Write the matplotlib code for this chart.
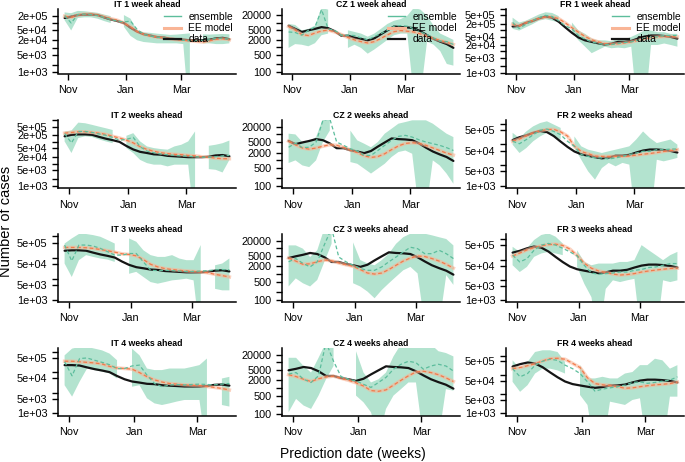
import numpy as np
import pandas as pd
import matplotlib
matplotlib.use("Agg")
import matplotlib.pyplot as plt
import matplotlib.dates as mdates
from matplotlib.lines import Line2D

plt.rcParams['font.family'] = ['Liberation Sans', 'DejaVu Sans']

nan = np.nan
countries = ["IT", "CZ", "FR"]
horizons = [1, 2, 3, 4]
first_pred = "2020-10-28"
n_dates = 26
month_ticks = ["2020-11-01", "2021-01-01", "2021-03-01"]
month_labels = ["Nov", "Jan", "Mar"]

# weekly observed cases, by target week (first target = 2020-11-04)
it_data = [1.6e5, 1.8e5, 2.1e5, 2.2e5, 2.2e5, 2.1e5, 1.7e5, 1.4e5, 1.2e5, 1.0e5, 6.5e4, 4.5e4, 3.5e4,
           3.1e4, 2.7e4, 2.6e4, 2.3e4, 2.2e4, 2.1e4, 2.0e4, 2.0e4, 2.0e4, 2.1e4, 2.4e4, 2.5e4, 2.2e4]
cz_data = [7500, 5600, 4200, 4900, 5600, 6600, 6000, 4500, 2950, 2950, 2450, 2200, 1900,
           2300, 3400, 4900, 7000, 6600, 6400, 6000, 4500, 3100, 2200, 1700, 1350, 950]
fr_data = [1.5e5, 1.6e5, 2.2e5, 2.7e5, 3.6e5, 4.4e5, 3.9e5, 2.5e5, 1.35e5, 7.5e4, 4.5e4, 3.3e4, 2.8e4,
           2.4e4, 2.1e4, 2.3e4, 2.8e4, 2.8e4, 3.1e4, 4.0e4, 5.0e4, 5.6e4, 5.6e4, 5.3e4, 4.8e4, 4.0e4]

# Italy
it1_med = [2.0e5, 1.0e5, 2.2e5, 2.3e5, 2.2e5, 2.0e5, 1.7e5, 1.4e5, 1.2e5, 1.1e5, 1.2e5, 5.5e4, 3.5e4,
           3.0e4, 2.7e4, 2.5e4, 2.3e4, 2.2e4, 2.0e4, 1.9e4, 1.9e4, 2.0e4, 2.1e4, 2.4e4, 2.4e4, 2.2e4]
it1_lo = [1.3e5, 5.0e4, 1.6e5, 1.7e5, 1.7e5, 1.5e5, 1.2e5, 1.0e5, nan, 7.0e4, 3.0e4, 2.0e4, 1.7e4,
          1.6e4, 1.5e4, 1.5e4, 1.5e4, 1.5e4, 1.4e4, 10, nan, 1.5e4, 1.5e4, 1.4e4, 1.4e4, 1.5e4]
it1_hi = [2.7e5, 2.5e5, 3.1e5, 3.0e5, 2.8e5, 2.6e5, 2.2e5, 1.9e5, nan, 2.1e5, 1.5e5, 5.0e4, 4.2e4,
          4.0e4, 3.7e4, 3.5e4, 3.3e4, 3.4e4, 3.6e4, 3.8e4, nan, 3.5e4, 3.4e4, 3.5e4, 3.6e4, 3.5e4]
it1_ee = [1.9e5, 1.7e5, 2.1e5, 2.3e5, 2.3e5, 2.1e5, 1.8e5, 1.5e5, 1.3e5, 1.0e5, 7.0e4, 4.5e4, 3.5e4,
          3.0e4, 2.7e4, 2.5e4, 2.3e4, 2.1e4, 2.0e4, 1.9e4, 1.8e4, 1.7e4, 1.9e4, 2.2e4, 2.3e4, 2.1e4]

it2_med = [2.4e5, 9.0e4, 3.0e5, 3.0e5, 2.7e5, 2.3e5, 2.0e5, 1.6e5, 1.2e5, 1.3e5, 1.6e5, 6.0e4, 3.8e4,
           3.2e4, 2.8e4, 2.6e4, 2.4e4, 2.3e4, 2.2e4, 2.1e4, 2.0e4, 2.0e4, 2.1e4, 2.3e4, 2.4e4]
it2_lo = [1.05e5, 3.1e4, 1.5e5, 1.8e5, 1.66e5, 1.3e5, 1.05e5, 8.7e4, nan, 5.2e4, 3.1e4, 1.5e4, 1.07e4,
          9.1e3, 9.1e3, 7.6e3, 9.1e3, 9.1e3, 9.1e3, 10, nan, 5.7e3, 5.3e3, 4.0e3, 1.5e4]
it2_hi = [3.0e5, 3.3e5, 7.6e5, 7.1e5, 6.0e5, 5.0e5, 4.2e5, 3.5e5, nan, 1.9e5, 2.5e5, 1.05e5, 6.2e4,
          5.2e4, 4.7e4, 4.4e4, 6.2e4, 7.4e4, 1.05e5, 3.0e5, nan, 6.6e4, 7.4e4, 8.7e4, 1.15e5]
it2_ee = [2.5e5, 2.7e5, 2.9e5, 2.9e5, 2.7e5, 2.5e5, 2.2e5, 1.8e5, 1.5e5, 1.2e5, 9.0e4, 6.0e4, 4.5e4,
          3.7e4, 3.2e4, 2.9e4, 2.7e4, 2.6e4, 2.4e4, 2.3e4, 2.1e4, 2.0e4, 1.8e4, 1.7e4, 1.7e4]

it3_med = [3.9e5, 6.9e4, 3.9e5, 3.9e5, 3.5e5, 2.7e5, 1.9e5, 1.3e5, 1.3e5, 1.55e5, 1.55e5, 6.2e4,
           2.5e4, 2.4e4, 2.5e4, 2.4e4, 2.3e4, 2.2e4, 2.2e4, 2.3e4, 2.4e4, 2.6e4, 2.7e4, 2.6e4]
it3_lo = [5.2e4, 1.2e4, 7.5e4, 1.3e5, 1.07e5, 9.0e4, 8.0e4, 6.2e4, nan, 1.7e4, 2.1e4, 1.2e4,
          6.9e3, 5.8e3, 6.9e3, 8.3e3, 9.0e3, 1.0e4, 8.3e3, 10, nan, 3.3e3, 2.8e3, 2.8e3]
it3_hi = [4.6e5, 8.0e5, 1.3e6, 1.3e6, 1.15e6, 9.6e5, 6.7e5, 4.6e5, nan, 8.0e5, 5.6e5, 2.2e5,
          1.3e5, 1.07e5, 1.07e5, 1.3e5, 9.0e4, 7.5e4, 7.5e4, 3.9e5, nan, 4.3e4, 5.2e4, 9.0e4]
it3_ee = [3.0e5, 3.0e5, 3.0e5, 2.9e5, 2.7e5, 2.4e5, 2.1e5, 1.8e5, 1.5e5, 1.4e5, 1.2e5, 8.0e4,
          4.8e4, 3.6e4, 3.0e4, 2.7e4, 2.5e4, 2.3e4, 2.2e4, 2.1e4, 1.9e4, 1.6e4, 1.4e4, 1.2e4]

it4_med = [3.2e5, 6.6e4, 4.6e5, 4.9e5, 3.8e5, 3.0e5, 2.3e5, 1.5e5, 1.5e5, 2.0e5, 2.2e5, 7.1e4,
           2.8e4, 1.95e4, 2.35e4, 2.5e4, 2.4e4, 2.5e4, 2.6e4, 2.5e4, 2.4e4, 2.6e4, 2.8e4]
it4_lo = [2.3e4, 6.4e3, 3.4e4, 1.5e5, 1.26e5, 1.05e5, 8.7e4, 4.9e4, nan, 1.95e4, 2.3e4, 5.3e3,
          3.0e3, 2.5e3, 3.0e3, 3.7e3, 4.4e3, 4.4e3, 4.4e3, 10, nan, 2.5e3, 2.1e3]
it4_hi = [6.6e5, 1.4e6, 1.7e6, 1.7e6, 1.4e6, 1.15e6, 8.0e5, 3.8e5, nan, 1.4e6, 6.6e5, 1.5e5,
          1.26e5, 1.26e5, 1.5e5, 1.5e5, 1.5e5, 1.8e5, 2.2e5, 4.6e5, nan, 4.9e4, 5.9e4]
it4_ee = [3.4e5, 3.4e5, 3.2e5, 3.0e5, 2.8e5, 2.5e5, 1.9e5, 1.6e5, 1.5e5, 1.4e5, 9.5e4, 6.0e4,
          4.2e4, 3.3e4, 2.8e4, 2.6e4, 2.4e4, 2.3e4, 2.2e4, 2.0e4, 1.8e4, 1.6e4, 1.35e4]

# Czechia
cz1_med = [4200, 4000, 3100, 4900, 6600, 34000, 5600, 4900, 3100, 3100, 3000, 2400, 2000,
           2700, 3600, 4900, 7200, 7600, 7200, 5600, 4200, 3300, 2400, 1800, 1700, 1300]
cz1_lo = [940, 1350, 1270, 1100, 1470, 3100, 3600, nan, nan, 940, 1270, 940, 550,
          810, 1270, 2000, 3100, 3600, 3600, 10, 10, 1700, 1270, 700, 210, 180]
cz1_hi = [8900, 8100, 4900, 5600, 7600, 40000, 34000, nan, nan, 4900, 4200, 3600, 2700,
          3600, 5600, 8900, 12000, 14000, 19000, 40000, 34000, 19000, 7600, 3600, 2700, 2000]
cz1_ee = [7000, 5000, 3300, 3000, 3800, 4600, 5000, 4200, 3300, 2500, 2000, 1700, 1500,
          1700, 2300, 3200, 4300, 4800, 4500, 4200, 3500, 2800, 2300, 1900, 1600, 1300]

cz2_med = [3200, 4600, 3100, 3200, 5100, 35000, 40000, 5100, 3800, 2800, 2300, 1550, 1550,
           2400, 3800, 5900, 8400, 9200, 7900, 6200, 5100, 4400, 3800, 3100, 2400]
cz2_lo = [790, 1000, 640, 550, 1000, 5100, 14000, nan, nan, 860, 740, 480, 310,
          480, 740, 1350, 2100, 2400, 1800, 10, 10, 1000, 640, 310, 125]
cz2_hi = [10700, 10000, 5100, 5100, 7900, 40000, 46000, nan, nan, 14000, 5900, 4400, 3200,
          5100, 10700, 16600, 26000, 30000, 35000, 35000, 35000, 26000, 16600, 10700, 7900]
cz2_ee = [5500, 4000, 3000, 2700, 3000, 3500, 4000, 3800, 3200, 2500, 2000, 1500, 1300,
          1400, 1800, 2600, 3600, 4500, 4800, 4500, 3800, 3000, 2400, 1900, 1600]

cz3_med = [3000, 4000, 2600, 1900, 3000, 14000, 60000, 4600, 3000, 2200, 1650, 1400,
           1400, 1900, 3000, 4600, 7200, 11000, 9700, 6200, 6200, 8400, 6200, 4000]
cz3_lo = [330, 680, 440, 330, 590, 3000, 15000, nan, nan, 440, 330, 210,
          115, 240, 440, 790, 1400, 1900, 1060, 10, 10, 10, 910, 380]
cz3_hi = [13000, 13000, 9700, 4600, 8400, 60000, 60000, nan, nan, 17000, 3500, 2600,
          2200, 3500, 6200, 15000, 27000, 37000, 37000, 37000, 32000, 27000, 23000, 13000]
cz3_ee = [4200, 3200, 2400, 2500, 3000, 3500, 3300, 2700, 2300, 2000, 1500, 1100,
          1000, 1100, 1500, 2200, 3200, 4200, 5000, 4800, 4000, 3200, 2400, 1700]

cz4_med = [3500, 4000, 2200, 1650, 3000, 60000, 11000, 2800, 2200, 1900, 1400, 1060,
           1650, 2600, 5400, 8400, 11000, 9700, 5400, 7200, 8400, 7200, 4600]
cz4_lo = [115, 380, 210, 155, 510, 2200, 7200, nan, nan, 510, 280, 115,
          10, 155, 510, 910, 1650, 1650, 10, 10, 10, 910, 790]
cz4_hi = [15000, 15000, 7200, 4000, 15000, 60000, 60000, nan, nan, 27000, 4000, 1650,
          2200, 4000, 17000, 50000, 50000, 50000, 50000, 50000, 27000, 23000, 17000]
cz4_ee = [3300, 2800, 2200, 1800, 2300, 2700, 2900, 2400, 2000, 1600, 1200, 800,
          750, 850, 1300, 2000, 3000, 4200, 4500, 4000, 3300, 2500, 1800]

# France
fr1_med = [2.3e5, 1.2e5, 1.9e5, 2.8e5, 3.9e5, 5.0e5, 4.4e5, 2.8e5, 1.6e5, 1.15e5, 5.6e4, 3.7e4, 2.8e4,
           2.35e4, 2.1e4, 2.1e4, 2.35e4, 2.6e4, 2.8e4, 3.3e4, 4.3e4, 4.8e4, 4.8e4, 5.6e4, 5.6e4, 5.6e4]
fr1_lo = [1.15e5, 9.6e4, 1.35e5, 1.9e5, 2.8e5, 3.3e5, 2.8e5, 2.3e5, nan, 8.0e4, 3.3e4, 1.66e4, 8.2e3,
          1.17e4, 1.66e4, 1.4e4, 1.5e4, 1.4e4, 1.66e4, 10, 10, 2.0e4, 2.0e4, 2.35e4, 2.0e4, 1.66e4]
fr1_hi = [3.9e5, 2.3e5, 2.8e5, 3.9e5, 5.5e5, 7.0e5, 6.5e5, 4.6e5, nan, 2.3e5, 9.6e4, 6.7e4, 4.0e4,
          3.3e4, 3.3e4, 3.0e4, 4.0e4, 3.7e4, 4.8e4, 6.7e4, 9.6e4, 9.6e4, 8.0e4, 8.0e4, 6.7e4, 6.7e4]
fr1_ee = [1.9e5, 1.6e5, 2.2e5, 2.8e5, 3.6e5, 4.2e5, 4.2e5, 3.5e5, 2.2e5, 1.3e5, 8.0e4, 5.0e4, 3.5e4,
          2.8e4, 2.3e4, 2.2e4, 2.3e4, 2.5e4, 2.8e4, 3.3e4, 4.0e4, 4.5e4, 4.8e4, 5.0e4, 5.0e4, 4.8e4]

fr2_med = [1.4e5, 1.07e5, 1.7e5, 2.9e5, 4.8e5, 5.5e5, 4.2e5, 2.9e5, 1.4e5, 8.0e4, 3.2e4, 2.6e4, 2.2e4,
           2.2e4, 1.95e4, 2.2e4, 2.6e4, 3.2e4, 3.8e4, 4.6e4, 4.6e4, 5.5e4, 5.5e4, 5.9e4, 5.9e4]
fr2_lo = [9.6e4, 3.8e4, 6.6e4, 1.4e5, 2.4e5, 3.6e5, 2.4e5, 1.7e5, nan, 6.6e4, 1.8e4, 4.9e3, 1.95e3,
          7.1e3, 1.26e4, 8.6e3, 1.26e4, 1.04e4, 10, 10, 10, 1.8e4, 1.5e4, 1.8e4, 2.2e4]
fr2_hi = [3.6e5, 2.0e5, 4.2e5, 7.4e5, 1.07e6, 1.3e6, 9.0e5, 6.2e5, nan, 2.4e5, 8.0e4, 5.5e4, 4.6e4,
          3.8e4, 4.6e4, 5.5e4, 6.6e4, 8.0e4, 1.7e5, 4.2e5, 2.0e5, 1.15e5, 1.4e5, 1.7e5, 9.6e4]
fr2_ee = [1.4e5, 1.8e5, 2.6e5, 3.6e5, 4.5e5, 5.2e5, 5.3e5, 4.0e5, 2.5e5, 8.0e4, 4.5e4, 3.5e4, 2.7e4,
          2.6e4, 2.6e4, 2.6e4, 2.6e4, 2.7e4, 3.0e4, 3.3e4, 3.6e4, 4.0e4, 4.5e4, 5.0e4, 5.5e4]

fr3_med = [1.65e5, 7.6e4, 1.1e5, 2.9e5, 5.2e5, 6.3e5, 5.2e5, 3.6e5, 2.4e5, 1.5e5, 5.2e4, 2.15e4,
           1.85e4, 2.0e4, 2.15e4, 2.4e4, 2.4e4, 2.9e4, 3.2e4, 4.0e4, 4.3e4, 5.2e4, 6.3e4, 6.3e4]
fr3_lo = [5.2e4, 2.4e4, 4.3e4, 1.35e5, 2.0e5, 2.4e5, 2.0e5, 1.65e5, nan, 4.3e4, 6.3e3, 1.36e3,
          10, 3.5e3, 9.3e3, 7.6e3, 9.3e3, 1.1e4, 10, 10, 10, 9.3e3, 7.6e3, 9.3e3]
fr3_hi = [4.3e5, 2.4e5, 3.6e5, 9.3e5, 1.65e6, 2.0e6, 1.36e6, 6.3e5, nan, 2.9e5, 7.6e4, 5.2e4,
          6.3e4, 6.3e4, 6.3e4, 7.6e4, 7.6e4, 9.3e4, 5.2e5, 2.9e5, 1.65e5, 9.3e4, 1.65e5, 2.4e5]
fr3_ee = [1.5e5, 2.1e5, 3.0e5, 3.9e5, 4.8e5, 5.5e5, 5.8e5, 5.0e5, 3.3e5, 1.6e5, 6.5e4, 3.7e4,
          2.7e4, 2.3e4, 1.9e4, 1.7e4, 1.8e4, 2.0e4, 2.4e4, 2.7e4, 3.0e4, 3.3e4, 3.6e4, 3.7e4]

fr4_med = [2.1e5, 7.9e4, 1.17e5, 3.2e5, 5.1e5, 6.5e5, 5.7e5, 3.2e5, 2.1e5, 1.17e5, 4.3e4, 1.4e4,
           1.8e4, 2.1e4, 2.4e4, 2.9e4, 4.0e4, 4.3e4, 3.6e4, 4.0e4, 4.7e4, 5.3e4, 7.9e4]
fr4_lo = [4.3e4, 1.3e4, 2.9e4, 1.17e5, 2.1e5, 2.1e5, 1.7e5, 1.17e5, nan, 8.9e3, 2.7e3, 10,
          10, 4.0e3, 3.3e3, 2.7e3, 4.9e3, 6.0e3, 10, 10, 10, 7.3e3, 7.3e3]
fr4_hi = [5.7e5, 2.1e5, 4.7e5, 1.55e6, 1.9e6, 1.9e6, 1.55e6, 4.7e5, nan, 3.2e5, 6.5e4, 6.5e4,
          7.9e4, 6.5e4, 6.5e4, 1.17e5, 1.4e5, 3.2e5, 3.2e5, 6.9e5, 5.7e5, 2.1e5, 3.2e5]
fr4_ee = [2.1e5, 2.4e5, 3.0e5, 3.8e5, 5.3e5, 7.0e5, 7.3e5, 6.5e5, 4.0e5, 2.4e5, 7.0e4, 3.5e4,
          3.0e4, 2.8e4, 2.4e4, 2.0e4, 2.1e4, 2.4e4, 2.7e4, 3.0e4, 3.2e4, 3.5e4, 4.2e4]

data = {"IT": it_data, "CZ": cz_data, "FR": fr_data}
panels = {
    ("IT", 1): (it1_med, it1_lo, it1_hi, it1_ee), ("IT", 2): (it2_med, it2_lo, it2_hi, it2_ee),
    ("IT", 3): (it3_med, it3_lo, it3_hi, it3_ee), ("IT", 4): (it4_med, it4_lo, it4_hi, it4_ee),
    ("CZ", 1): (cz1_med, cz1_lo, cz1_hi, cz1_ee), ("CZ", 2): (cz2_med, cz2_lo, cz2_hi, cz2_ee),
    ("CZ", 3): (cz3_med, cz3_lo, cz3_hi, cz3_ee), ("CZ", 4): (cz4_med, cz4_lo, cz4_hi, cz4_ee),
    ("FR", 1): (fr1_med, fr1_lo, fr1_hi, fr1_ee), ("FR", 2): (fr2_med, fr2_lo, fr2_hi, fr2_ee),
    ("FR", 3): (fr3_med, fr3_lo, fr3_hi, fr3_ee), ("FR", 4): (fr4_med, fr4_lo, fr4_hi, fr4_ee),
}

# axis ranges, tick steps and which ticks get a label (R drops overlapping ones)
ylims = {("IT", 1): (900, 3.7e5), ("IT", 2): (780, 1.0e6), ("IT", 3): (830, 1.3e6), ("IT", 4): (770, 1.5e6),
         ("CZ", 1): (86, 3.6e4), ("CZ", 2): (86, 3.6e4), ("CZ", 3): (86, 3.6e4), ("CZ", 4): (86, 3.6e4),
         ("FR", 1): (900, 1.0e6), ("FR", 2): (770, 1.5e6), ("FR", 3): (825, 1.85e6), ("FR", 4): (760, 2.5e6)}
labelled = {("IT", 1): [1e3, 5e3, 2e4, 5e4, 2e5], ("IT", 2): [1e3, 5e3, 2e4, 5e4, 2e5, 5e5],
            ("IT", 3): [1e3, 5e3, 5e4, 5e5], ("IT", 4): [1e3, 5e3, 5e4, 5e5],
            ("FR", 1): [1e3, 5e3, 2e4, 5e4, 2e5, 5e5], ("FR", 2): [1e3, 5e3, 5e4, 5e5],
            ("FR", 3): [1e3, 5e3, 5e4, 5e5], ("FR", 4): [1e3, 5e3, 5e4, 5e5]}
for h in horizons:
    labelled[("CZ", h)] = [100, 500, 2000, 5000, 20000]

band_col = "#b3e3cf"
ens_col = "#5cbd9c"
ee_col = "#f37a4a"
ee_glow = "#f9b596"
data_col = "#151515"

fig = plt.figure(figsize=(6.85, 4.62), dpi=100)
W, H = 685.0, 462.0
lefts = [58, 282, 506]
tops = [9, 120, 234, 348]
bottoms = [73.5, 188, 301.5, 415.5]
aw = 178

pred_dates = pd.date_range(first_pred, periods=n_dates, freq="7D")
tick_x = mdates.date2num(pd.to_datetime(month_ticks))

for ci, c in enumerate(countries):
    for ri, h in enumerate(horizons):
        ah = bottoms[ri] - tops[ri]
        ax = fig.add_axes([lefts[ci] / W, 1 - bottoms[ri] / H, aw / W, ah / H])
        n = n_dates + 1 - h
        x = mdates.date2num(pred_dates[:n])
        med, lo, hi, ee = panels[(c, h)]
        obs = data[c][h - 1:h - 1 + n]

        ax.fill_between(x, lo, hi, color=band_col, lw=0, zorder=1)
        ax.plot(x, obs, color=data_col, lw=1.6, zorder=2, solid_capstyle="round")
        ax.plot(x, ee, color=ee_glow, lw=2.5, alpha=0.6, zorder=3)
        ax.plot(x, ee, color=ee_col, lw=0.9, ls=(0, (3, 2)), zorder=4)
        ax.plot(x, med, color=ens_col, lw=0.9, ls=(0, (3, 2)), zorder=5)

        ax.set_yscale("log")
        y0, y1 = ylims[(c, h)]
        ax.set_ylim(y0, y1)
        span = x[-1] - x[0]
        ax.set_xlim(x[0] - 0.04 * span, x[-1] + 0.04 * span)

        mults = (1, 5) if (c != "CZ" and h >= 3) or (c == "FR" and h >= 2) else (1, 2, 5)
        ticks = [m * 10.0 ** k for k in range(1, 8) for m in mults if y0 <= m * 10.0 ** k <= y1]
        labs = []
        for t in ticks:
            if any(abs(t - v) < 1e-6 * v for v in labelled[(c, h)]):
                labs.append(str(int(t)) if c == "CZ" else "%.0e" % t)
            else:
                labs.append("")
        ax.set_yticks(ticks)
        ax.set_yticklabels(labs)
        ax.yaxis.set_minor_locator(matplotlib.ticker.NullLocator())
        ax.set_xticks(tick_x)
        ax.set_xticklabels(month_labels)

        for s in ["top", "right"]:
            ax.spines[s].set_visible(False)
        for s in ["left", "bottom"]:
            ax.spines[s].set_linewidth(1.1)
        ax.tick_params(axis="both", length=4.3, width=1.0, labelsize=7.8)
        ax.tick_params(axis="x", pad=4.3)
        ax.tick_params(axis="y", pad=3.2)

        wk = "week" if h == 1 else "weeks"
        ax.set_title(f"{c} {h} {wk} ahead", fontsize=6.3, fontweight="bold", pad=0.5)

        if h == 1:
            handles = [Line2D([], [], color=ens_col, lw=1.0),
                       Line2D([], [], color=ee_glow, lw=2.2),
                       Line2D([], [], color=data_col, lw=1.6)]
            ax.legend(handles, ["ensemble", "EE model", "data"], loc="upper right",
                      bbox_to_anchor=(1.0, 1.0), frameon=False, fontsize=7.4,
                      handlelength=1.7, handletextpad=0.7, labelspacing=0.1,
                      borderpad=0.3, borderaxespad=0)

fig.text(0.009, 1 - 221 / H, "Number of cases", rotation=90, ha="center", va="center", fontsize=10.5)
fig.text(353 / W, 1 - 454 / H, "Prediction date (weeks)", ha="center", va="center", fontsize=10)

fig.savefig("out.png", dpi=100)
